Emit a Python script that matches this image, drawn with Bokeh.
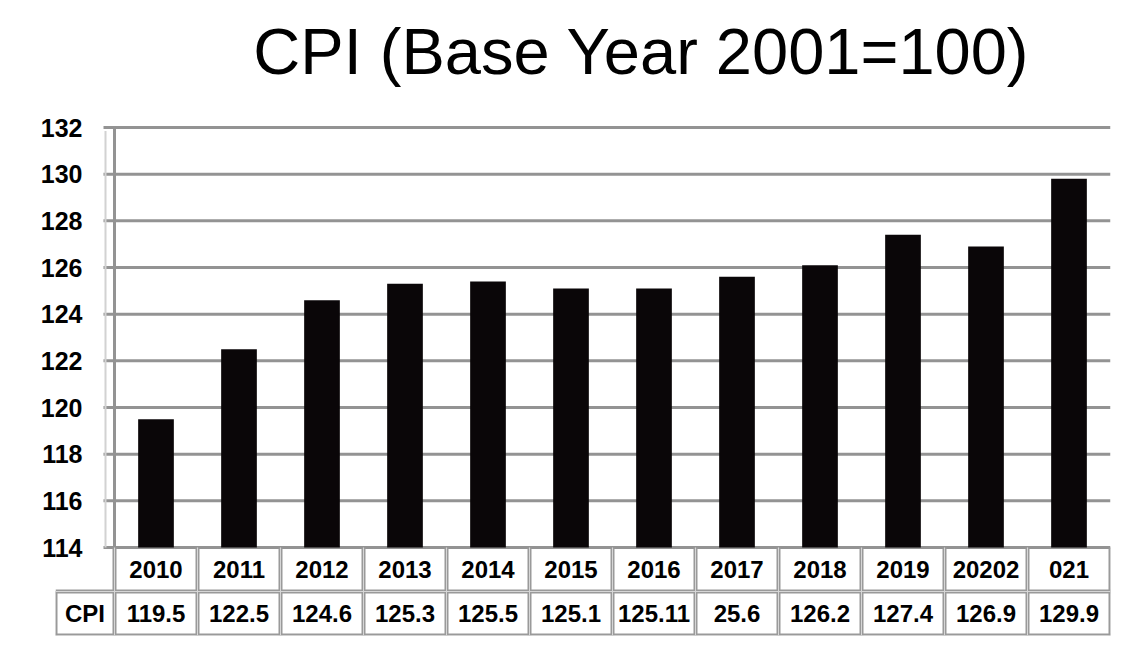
from bokeh.plotting import figure
from bokeh.models import Range1d, FixedTicker, ColumnDataSource
from bokeh.embed import file_html
from bokeh.resources import INLINE
from bokeh.core.properties import value

# ---- data ----
YEARS = ["2010", "2011", "2012", "2013", "2014", "2015", "2016", "2017", "2018", "2019", "2020", "2021"]
CPI_BARS = [119.5, 122.5, 124.6, 125.3, 125.4, 125.1, 125.1, 125.6, 126.1, 127.4, 126.9, 129.8]
YEAR_LABELS = ["2010", "2011", "2012", "2013", "2014", "2015", "2016", "2017", "2018", "2019", "20202", "021"]
CPI_LABELS = ["119.5", "122.5", "124.6", "125.3", "125.5", "125.1", "125.11", "25.6", "126.2", "127.4", "126.9", "129.9"]
ROW_NAME = "CPI"
Y_TICKS = [114, 116, 118, 120, 122, 124, 126, 128, 130, 132]
TITLE = "CPI (Base Year 2001=100)"

FONT = "Liberation Sans"
GRID = "#939393"
CELL = "#9a9a9a"

# ---- layout geometry (pixels) ----
W, H = 1144, 649
FRAME_LEFT, AXIS_X, FRAME_RIGHT = 55, 114, 1110
CHART_TOP, CHART_BOTTOM, TABLE_BOTTOM = 127, 547, 635
TITLE_X, TITLE_Y = 641, 51
n = len(YEARS)
COL_W = (FRAME_RIGHT - AXIS_X) / n
ROW_H = (TABLE_BOTTOM - CHART_BOTTOM) / 2
ppu = (CHART_BOTTOM - CHART_TOP) / (Y_TICKS[-1] - Y_TICKS[0])
y_lo = Y_TICKS[0] - (TABLE_BOTTOM - CHART_BOTTOM) / ppu
y_hi = Y_TICKS[-1] + CHART_TOP / ppu
left_edge = -(AXIS_X - FRAME_LEFT) / COL_W
tick_x = -11 / COL_W

p = figure(width=W, height=H, x_range=Range1d(left_edge, n), y_range=Range1d(y_lo, y_hi),
           output_backend="svg", toolbar_location=None,
           min_border_left=FRAME_LEFT, min_border_right=W - FRAME_RIGHT,
           min_border_top=0, min_border_bottom=H - TABLE_BOTTOM)
p.outline_line_color = None
p.background_fill_color = "white"
p.border_fill_color = "white"
p.extra_y_ranges = {"table": Range1d(start=2, end=-CHART_BOTTOM / ROW_H)}

# title
p.text(x=[(TITLE_X - AXIS_X) / COL_W], y=[Y_TICKS[-1] + (CHART_TOP - TITLE_Y) / ppu], text=[TITLE],
       text_font=value(FONT), text_font_size="65px", text_align="center",
       text_baseline="alphabetic", text_color="black")

# gridlines (with outer tick stubs) and axis wall
p.segment(x0=[tick_x] * len(Y_TICKS), y0=Y_TICKS, x1=[n] * len(Y_TICKS), y1=Y_TICKS,
          line_color=GRID, line_width=3)
p.segment(x0=[-9 / COL_W], y0=[Y_TICKS[-1] - 0.15], x1=[-9 / COL_W], y1=[Y_TICKS[0]],
          line_color="#d2d2d2", line_width=2)
p.segment(x0=[0], y0=[Y_TICKS[0]], x1=[0], y1=[Y_TICKS[-1]], line_color=GRID, line_width=3)

# bars
centers = [i + 0.5 for i in range(n)]
src = ColumnDataSource(dict(x=centers, year=YEARS, cpi=CPI_BARS))
p.vbar(x="x", top="cpi", bottom=Y_TICKS[0], width=0.43, source=src,
       fill_color="#0a0608", line_color=None)

# y axis: labels only
p.xaxis.visible = False
p.xgrid.visible = False
p.ygrid.visible = False
p.yaxis.ticker = FixedTicker(ticks=Y_TICKS)
p.yaxis.minor_tick_line_color = None
p.yaxis.major_tick_line_color = None
p.yaxis.axis_line_color = None
p.yaxis.major_tick_out = 0
p.yaxis.major_tick_in = 0
p.yaxis.major_label_standoff = -(82 - FRAME_LEFT)
p.yaxis.major_label_text_font = FONT
p.yaxis.major_label_text_font_style = "bold"
p.yaxis.major_label_text_font_size = "25px"
p.yaxis.major_label_text_color = "black"

# ---- data table below the chart ----
xs0, ys0, xs1, ys1 = [], [], [], []
for i in range(0, n + 1):
    xs0.append(i); ys0.append(0); xs1.append(i); ys1.append(2)
xs0.append(left_edge); ys0.append(1); xs1.append(left_edge); ys1.append(2)
for yy in (1, 2):
    xs0.append(left_edge); ys0.append(yy); xs1.append(n); ys1.append(yy)
for lw, lc in ((4, CELL), (1, "#d6d6d6")):
    p.segment(x0=xs0, y0=ys0, x1=xs1, y1=ys1, line_color=lc, line_width=lw,
              y_range_name="table")

p.text(x=centers, y=[0.5] * n, text=YEAR_LABELS, text_font=value(FONT), text_font_style="bold",
       text_font_size="24px", text_align="center", text_baseline="middle", text_color="black",
       y_range_name="table")
p.text(x=centers, y=[1.5] * n, text=CPI_LABELS, text_font=value(FONT), text_font_style="bold",
       text_font_size="24px", text_align="center", text_baseline="middle", text_color="black",
       y_range_name="table")
p.text(x=[left_edge / 2], y=[1.5], text=[ROW_NAME], text_font=value(FONT), text_font_style="bold",
       text_font_size="24px", text_align="center", text_baseline="middle", text_color="black",
       y_range_name="table")

open("out.html", "w").write(file_html(p, INLINE))
